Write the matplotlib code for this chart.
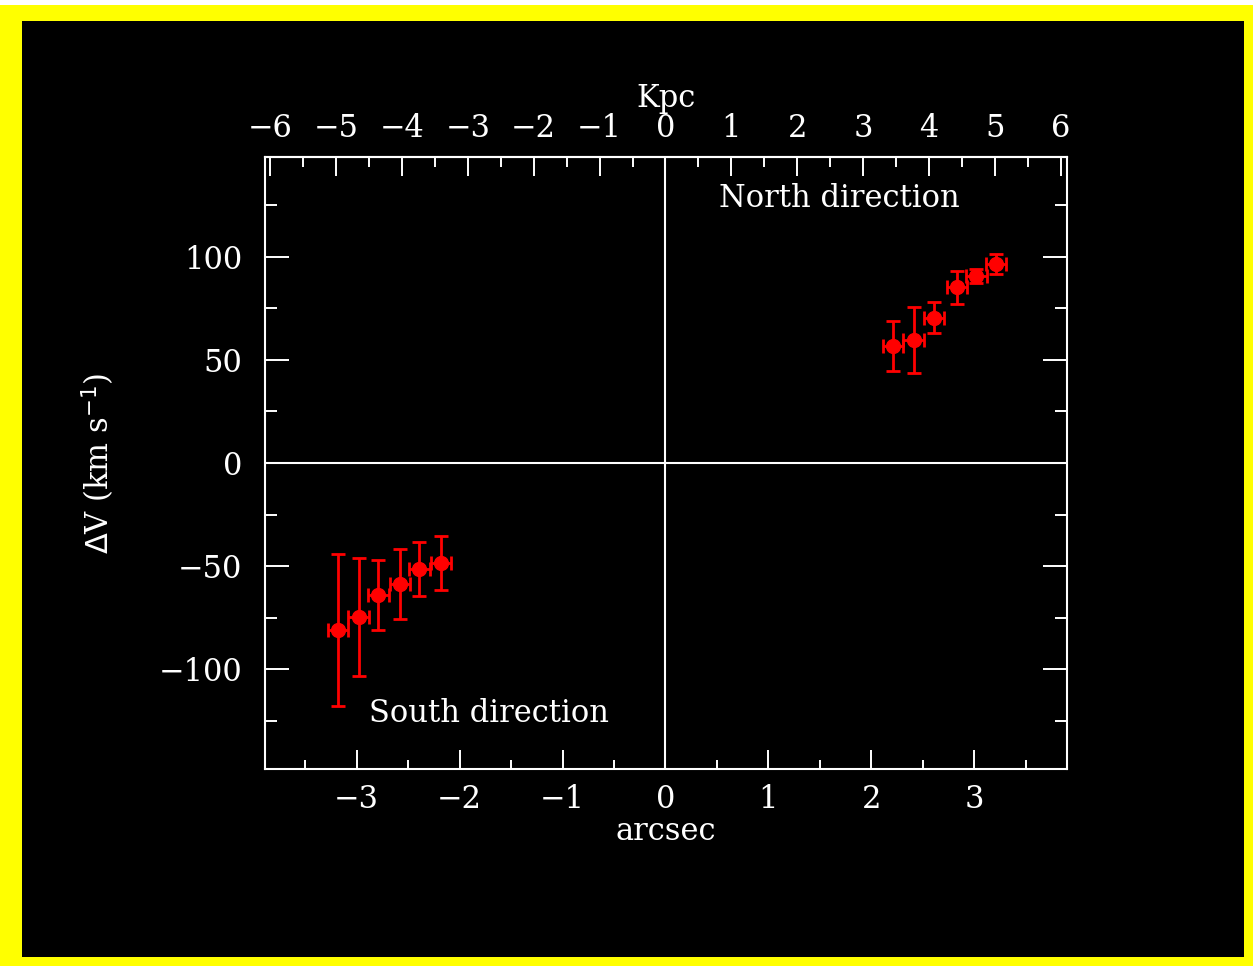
import matplotlib
matplotlib.use("Agg")
import matplotlib.pyplot as plt
from matplotlib.patches import Rectangle
from matplotlib.ticker import MultipleLocator

# ---- data ----
south_x = [-3.18, -2.98, -2.79, -2.58, -2.39, -2.18]
south_v = [-81.0, -74.8, -64.0, -58.7, -51.5, -48.5]
south_verr = [37.0, 28.5, 17.0, 17.0, 13.0, 13.0]
south_xerr = [0.1, 0.1, 0.1, 0.1, 0.1, 0.1]

north_x = [2.21, 2.41, 2.61, 2.83, 3.02, 3.21]
north_v = [56.8, 59.7, 70.4, 85.4, 90.8, 96.6]
north_verr = [12.3, 16.0, 7.5, 8.0, 3.5, 5.0]
north_xerr = [0.1, 0.1, 0.1, 0.1, 0.1, 0.1]

kpc_per_arcsec = 1.563
kpc_ticks = [-6, -5, -4, -3, -2, -1, 0, 1, 2, 3, 4, 5, 6]
arcsec_ticks = [-3, -2, -1, 0, 1, 2, 3]
v_ticks = [-100, -50, 0, 50, 100]

W, H = 1253, 966
fig = plt.figure(figsize=(W / 100, H / 100), dpi=100)
fig.patch.set_facecolor("#ffff00")
fig.patches.append(Rectangle((22 / W, 1 - 957 / H), (1244 - 22) / W, (957 - 21) / H,
                             transform=fig.transFigure, facecolor="black",
                             edgecolor="none", zorder=-10))
fig.patches.append(Rectangle((0, 1 - 5 / H), 1, 5 / H, transform=fig.transFigure,
                             facecolor="white", edgecolor="none", zorder=-9))

plt.rcParams["font.family"] = ["DejaVu Serif"]
FS = 22
WHITE = "white"

left, right, top, bottom = 265 / W, 1067 / W, 1 - 157 / H, 1 - 769 / H
ax = fig.add_axes([left, bottom, right - left, top - bottom])
ax.set_facecolor("black")
ax.set_xlim(-3.89, 3.9)
ax.set_ylim(-148.5, 148.5)

for s in ax.spines.values():
    s.set_color(WHITE)
    s.set_linewidth(1.5)

ax.axhline(0, color=WHITE, lw=1.5, zorder=1)
ax.axvline(0, color=WHITE, lw=1.5, zorder=1)

ax.set_xticks(arcsec_ticks)
ax.xaxis.set_minor_locator(MultipleLocator(0.5))
ax.set_yticks(v_ticks)
ax.yaxis.set_minor_locator(MultipleLocator(25))

ax.tick_params(axis="x", which="major", direction="in", length=13.5, width=1.4,
               colors=WHITE, labelsize=FS, pad=10.5, bottom=True, top=False)
ax.tick_params(axis="x", which="minor", direction="in", length=6.5, width=1.4,
               colors=WHITE, bottom=True, top=False)
ax.tick_params(axis="y", which="major", direction="in", length=17.5, width=1.4,
               colors=WHITE, labelsize=FS, pad=16.5, left=True, right=True)
ax.tick_params(axis="y", which="minor", direction="in", length=8.5, width=1.4,
               colors=WHITE, left=True, right=True)

ax.set_xlabel("arcsec", color=WHITE, fontsize=FS, labelpad=1)
ax.set_ylabel(r"$\Delta$V (km s$^{-1}$)", color=WHITE, fontsize=FS, labelpad=30)

sec = ax.secondary_xaxis("top", functions=(lambda x: x * kpc_per_arcsec,
                                           lambda x: x / kpc_per_arcsec))
sec.set_xticks(kpc_ticks)
sec.xaxis.set_minor_locator(MultipleLocator(0.5))
sec.spines["top"].set_color(WHITE)
sec.spines["top"].set_linewidth(1.5)
sec.tick_params(axis="x", which="major", direction="in", length=14, width=1.4,
                colors=WHITE, labelsize=FS, pad=9)
sec.tick_params(axis="x", which="minor", direction="in", length=7, width=1.4,
                colors=WHITE)
sec.set_xlabel("Kpc", color=WHITE, fontsize=FS, labelpad=5)

for xs, vs, xe, ve in [(south_x, south_v, south_xerr, south_verr),
                       (north_x, north_v, north_xerr, north_verr)]:
    ax.errorbar(xs, vs, xerr=xe, yerr=ve, fmt="o", color="#ff0000",
                ecolor="#ff0000", markersize=10, elinewidth=2.0, capsize=5,
                capthick=2.0, zorder=3)

ax.text(0.515, 128.6, "North direction", color=WHITE, fontsize=FS,
        ha="left", va="center")
ax.text(-2.88, -121.4, "South direction", color=WHITE, fontsize=FS,
        ha="left", va="center")

fig.savefig("out.png", dpi=100, facecolor=fig.get_facecolor())
